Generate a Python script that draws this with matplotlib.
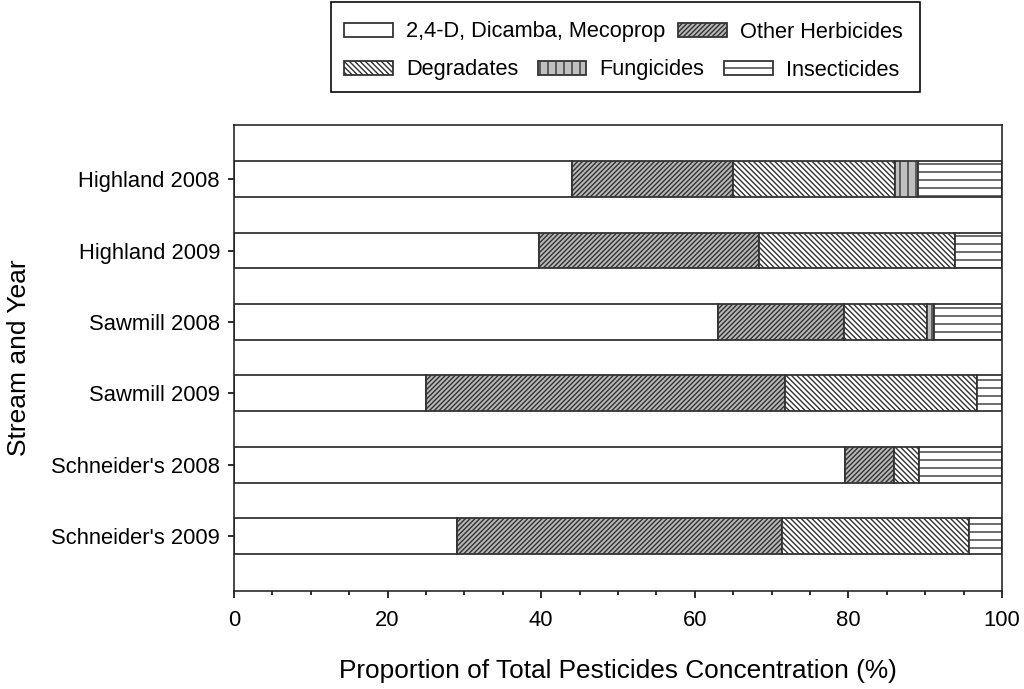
import matplotlib
matplotlib.use("Agg")
import matplotlib.pyplot as plt
from matplotlib.patches import Patch, Rectangle
import numpy as np

plt.rcParams['font.family'] = ['Liberation Sans', 'DejaVu Sans']
plt.rcParams['hatch.linewidth'] = 0.7
plt.rcParams['hatch.color'] = '#222222'

sites = ["Highland 2008", "Highland 2009", "Sawmill 2008", "Sawmill 2009",
         "Schneider's 2008", "Schneider's 2009"]
dicamba = [44.0, 39.7, 63.0, 25.0, 79.5, 29.0]
other_herb = [21.0, 28.6, 16.4, 46.8, 6.5, 42.3]
degradates = [21.1, 25.6, 10.8, 24.9, 3.2, 24.4]
fungicides = [2.9, 0.0, 1.0, 0.0, 0.0, 0.0]
insecticides = [11.0, 6.1, 8.8, 3.3, 10.8, 4.3]

series = [
    ("2,4-D, Dicamba, Mecoprop", dicamba, "white", ""),
    ("Other Herbicides", other_herb, "#b8b8b8", "/" * 10),
    ("Degradates", degradates, "white", "\\" * 9),
    ("Fungicides", fungicides, "#c0c0c0", "|||"),
    ("Insecticides", insecticides, "white", "---"),
]

fig = plt.figure(figsize=(1024/144, 689/144), dpi=144)
ax = fig.add_axes([234/1024, 98/689, 768/1024, 466/689])

y = np.arange(len(sites))
left = np.zeros(len(sites))
handles = []
for name, vals, fc, hatch in series:
    vals = np.array(vals)
    ax.barh(y, vals, left=left, height=0.5, color=fc, edgecolor="#333333",
            hatch=hatch, linewidth=0.9)
    left += vals
    handles.append(Patch(facecolor=fc, edgecolor="#333333", hatch=hatch,
                         linewidth=0.9, label=name))

ax.set_xlim(0, 100)
ax.set_ylim(5.77, -0.76)
ax.set_yticks(y)
ax.set_yticklabels(sites, fontsize=11)
ax.set_xticks(np.arange(0, 101, 20))
ax.set_xticks(np.arange(0, 101, 5), minor=True)
ax.tick_params(axis='x', which='major', length=3.5, width=0.8, labelsize=11, pad=6)
ax.tick_params(axis='x', which='minor', length=2, width=0.8)
ax.tick_params(axis='y', length=3, width=0.8, pad=4)
for s in ax.spines.values():
    s.set_linewidth(0.8)
    s.set_color("#222222")

ax.set_xlabel("Proportion of Total Pesticides Concentration (%)", fontsize=13.1, labelpad=14)
ax.set_ylabel("Stream and Year", fontsize=13.2, labelpad=10)

common = dict(frameon=False, fontsize=10.85, handlelength=2.25, handleheight=0.6,
              handletextpad=0.6, borderpad=0, borderaxespad=0)
fig.legend(handles=handles[:2], ncol=2, loc='center left',
           bbox_to_anchor=(344/1024, 1 - 32/689), columnspacing=0.6, **common)
fig.legend(handles=handles[2:], ncol=3, loc='center left',
           bbox_to_anchor=(344/1024, 1 - 70/689), columnspacing=0.9, **common)
fig.add_artist(Rectangle((331/1024, 1 - 92/689), 589/1024, 90/689,
                         transform=fig.transFigure, fill=False,
                         edgecolor="black", linewidth=0.8))

fig.savefig("out.png", dpi=144)
